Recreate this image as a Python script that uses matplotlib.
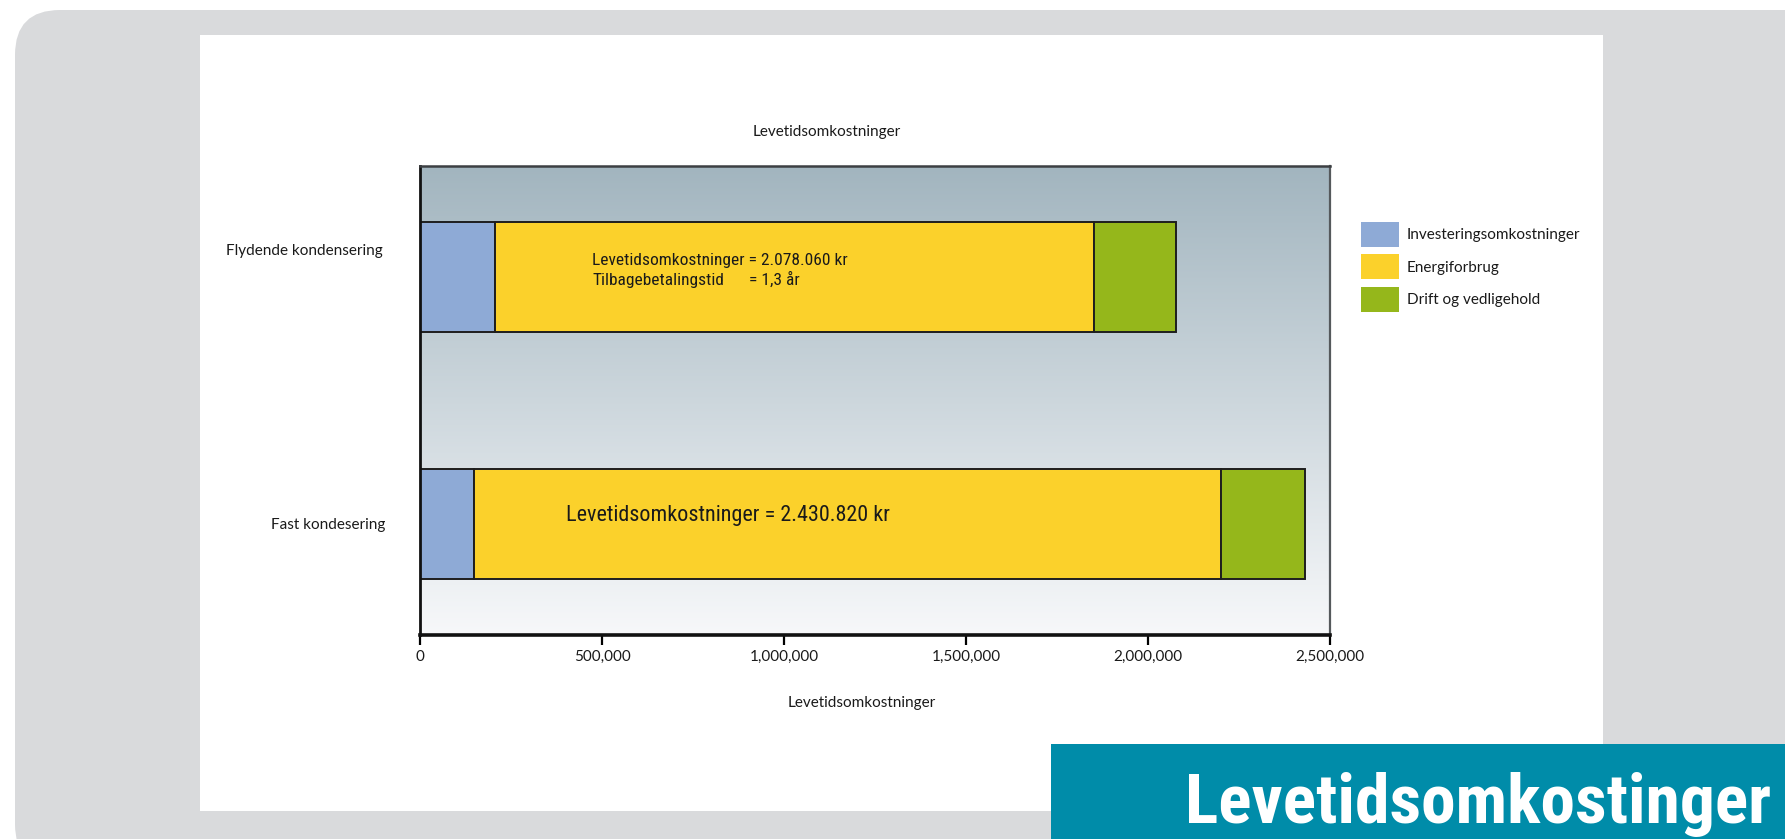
import matplotlib
matplotlib.use("Agg")
import matplotlib.pyplot as plt
import numpy as np
from matplotlib import font_manager
from matplotlib.font_manager import FontProperties
from matplotlib.patches import FancyBboxPatch, Rectangle, Patch
from matplotlib.ticker import FuncFormatter
from matplotlib.colors import LinearSegmentedColormap
import matplotlib.transforms as mtransforms

# ---------------- data ----------------
categories = ["Fast kondesering", "Flydende kondensering"]
investering = [148000, 206000]
energi = [2052000, 1646000]
drift = [230820, 226060]
series_names = ["Investeringsomkostninger", "Energiforbrug", "Drift og vedligehold"]
xticks = [0, 500000, 1000000, 1500000, 2000000, 2500000]
chart_title = "Levetidsomkostninger"
x_label = "Levetidsomkostninger"
banner_title = "Levetidsomkostinger"
note_top = ["Levetidsomkostninger = 2.078.060 kr", "Tilbagebetalingstid", "= 1,3 år"]
note_bottom = "Levetidsomkostninger = 2.430.820 kr"

# ---------------- fonts ----------------
names = {f.name for f in font_manager.fontManager.ttflist}
base_font = "Lato" if "Lato" in names else "DejaVu Sans"
plt.rcParams["font.family"] = [base_font, "DejaVu Sans"]


def find_condensed(bold):
    prefs = ["liberationsansnarrow", "robotocondensed", "opensanscondensed",
             "dejavusanscondensed", "notosanscondensed"]
    cands = []
    for f in font_manager.fontManager.ttflist:
        key = (f.name + " " + f.fname.split("/")[-1]).lower().replace(" ", "").replace("-", "")
        for rank, p in enumerate(prefs):
            if p in key:
                is_bold = (f.weight in ("bold", 700, "heavy", 800, 900)) or ("bold" in key)
                if "italic" in key or "oblique" in key or f.style != "normal":
                    continue
                if is_bold == bold:
                    cands.append((rank, f.fname))
    if cands:
        cands.sort()
        return FontProperties(fname=cands[0][1])
    return None


cond_bold = find_condensed(True)
cond_reg = find_condensed(False)

W, H = 1785, 839
DPI = 100
fig = plt.figure(figsize=(W / DPI, H / DPI), dpi=DPI)
fig.patch.set_facecolor("white")

# ---------------- background decoration ----------------
bg = fig.add_axes([0, 0, 1, 1], zorder=0)
bg.set_xlim(0, W)
bg.set_ylim(H, 0)
bg.axis("off")
gray = "#d9dadc"
bg.add_patch(FancyBboxPatch((15 + 45, 10 + 45), W + 100 - 15 - 90, H + 30 - 10 - 90,
                            boxstyle="round,pad=45", fc=gray, ec="none"))
bg.add_patch(Rectangle((200, 35), 1603 - 200, 811 - 35, fc="white", ec="none"))
teal = "#008ca9"
bg.add_patch(Rectangle((1051, 744), W - 1051 + 5, H - 744 + 5, fc=teal, ec="none"))
if cond_bold is not None:
    fp = cond_bold.copy()
    fp.set_size(50)
    bg.text(1771, 823, banner_title, color="white", fontproperties=fp,
            ha="right", va="baseline")
else:
    bg.text(1771, 823, banner_title, color="white", fontsize=46, fontweight="bold",
            ha="right", va="baseline")

# ---------------- chart ----------------
ax = fig.add_axes([420 / W, 1 - 635 / H, 910 / W, 469 / H], zorder=2)
ypos = np.arange(len(categories))
bar_h = 0.446
colors = ["#8eaad6", "#fbd12b", "#95b71b"]
edge = "#1e1e1e"

left = np.zeros(len(categories))
for vals, col, name in zip([investering, energi, drift], colors, series_names):
    ax.barh(ypos, vals, left=left, height=bar_h, color=col, edgecolor=edge,
            linewidth=1.4, label=name, zorder=3)
    left = left + np.array(vals)

ax.set_xlim(0, 2500000)
ax.set_ylim(-0.452, 1.45)

# gradient background
cmap = LinearSegmentedColormap.from_list("bgg", ["#f7f8fa", "#a2b5bf"])
grad = np.linspace(0, 1, 256).reshape(-1, 1)
ax.imshow(grad, extent=[0, 2500000, -0.452, 1.45], origin="lower", aspect="auto",
          cmap=cmap, zorder=0)

ax.set_xticks(xticks)
ax.xaxis.set_major_formatter(FuncFormatter(lambda v, p: f"{int(v):,}"))
ax.tick_params(axis="x", direction="out", length=7, width=1.6, color="black",
               pad=4, labelsize=11, labelcolor="#1a1a1a")
ax.set_yticks(ypos)
ax.set_yticklabels(categories)
ax.tick_params(axis="y", length=0, pad=25, labelsize=11, labelcolor="#1a1a1a")
# the upper category label sits a bit above its bar in the reference
lbls = ax.get_yticklabels()
off = mtransforms.ScaledTranslation(-3 / DPI, 27 / DPI, fig.dpi_scale_trans)
lbls[1].set_transform(lbls[1].get_transform() + off)

for side, lw, c in [("left", 2.0, "#111111"), ("bottom", 2.6, "#111111"),
                    ("top", 1.8, "#3c3f42"), ("right", 1.6, "#55595c")]:
    ax.spines[side].set_linewidth(lw)
    ax.spines[side].set_color(c)
    ax.spines[side].set_zorder(5)


def note(x, y, s, size):
    if cond_reg is not None:
        fp = cond_reg.copy()
        fp.set_size(size * 1.12)
        fig.text(x / W, 1 - y / H, s, fontproperties=fp, color="#1a1a1a",
                 va="center", ha="left", zorder=6)
    else:
        fig.text(x / W, 1 - y / H, s, fontsize=size, color="#1a1a1a",
                 va="center", ha="left", zorder=6)


note(592, 261, note_top[0], 11.2)
note(592, 280, note_top[1], 11.2)
note(749, 280, note_top[2], 11.2)
note(566, 516, note_bottom, 14.2)

# titles
fig.text(827 / W, 1 - 132 / H, chart_title, fontsize=11, ha="center", va="center", color="#1a1a1a")
fig.text(862 / W, 1 - 703 / H, x_label, fontsize=11, ha="center", va="center", color="#1a1a1a")

# legend
handles = [Patch(facecolor=c, edgecolor="none") for c in colors]
fs = 11
px = fs * DPI / 72
fig.legend(handles, series_names, loc="upper left",
           bbox_to_anchor=(1361 / W, 1 - 222 / H), bbox_transform=fig.transFigure,
           frameon=False, fontsize=fs, borderpad=0, borderaxespad=0,
           handlelength=38 / px, handleheight=2.14, handletextpad=8 / px,
           labelspacing=0.49, labelcolor="#1a1a1a")

fig.savefig("out.png", dpi=DPI)
